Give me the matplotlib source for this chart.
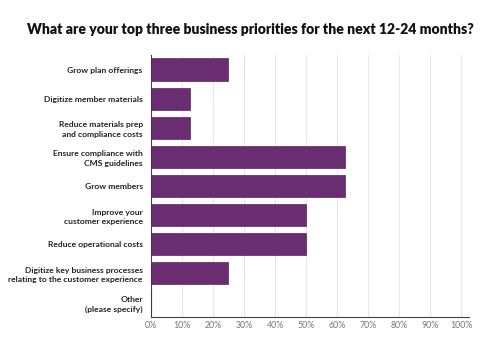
import matplotlib
matplotlib.use("Agg")
import matplotlib.pyplot as plt

categories = [
    "Grow plan offerings",
    "Digitize member materials",
    "Reduce materials prep\nand compliance costs",
    "Ensure compliance with\nCMS guidelines",
    "Grow members",
    "Improve your\ncustomer experience",
    "Reduce operational costs",
    "Digitize key business processes\nrelating to the customer experience",
    "Other\n(please specify)",
]
values = [25, 12.5, 12.5, 62.5, 62.5, 50, 50, 25, 0]
xticks = list(range(0, 101, 10))
xticklabels = [f"{t}%" for t in xticks]
title = "What are your top three business priorities for the next 12-24 months?"

plt.rcParams['font.family'] = ['Lato', 'DejaVu Sans']

fig = plt.figure(figsize=(5.0, 3.56), dpi=100)
ax = fig.add_axes([151/500, 1 - 317/356, (469-151)/500, (317-55)/356])

ypos = list(range(len(categories)))
ax.barh(ypos, values, height=0.76, color="#6b2d72", edgecolor="#5a2260", linewidth=0.5, zorder=3)
ax.set_ylim(len(categories) - 0.5, -0.5)
ax.set_xlim(0, 102.6)
ax.set_yticks(ypos)
ax.set_yticklabels(categories, fontsize=6.1, color="#222222", fontweight="bold", linespacing=1.4)
ax.set_xticks(xticks)
ax.set_xticklabels(xticklabels, fontsize=6.3, color="#777777")
ax.tick_params(axis="y", length=0, pad=6)
ax.tick_params(axis="x", length=0, pad=3)
ax.grid(axis="x", color="#e6e6e6", linewidth=0.8, zorder=0)
for s in ["top", "right"]:
    ax.spines[s].set_visible(False)
ax.spines["left"].set_color("#444444")
ax.spines["bottom"].set_color("#444444")
ax.spines["left"].set_linewidth(0.8)
ax.spines["bottom"].set_linewidth(0.8)

fig.text(0.5, 1 - 29/356, title, ha="center", va="center", fontsize=10.1, fontweight="heavy", color="#111111")

fig.savefig("out.png", dpi=100)
